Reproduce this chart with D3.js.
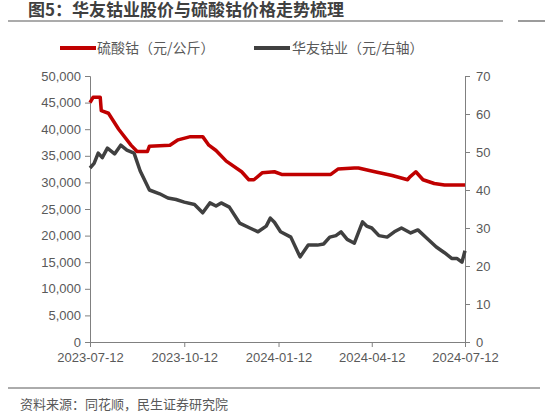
<!DOCTYPE html>
<html><head><meta charset="utf-8">
<script src="https://cdn.jsdelivr.net/npm/d3@7"></script>
<style>body{margin:0;background:#fff;font-family:"Noto Sans CJK SC","Noto Sans",sans-serif}</style>
</head><body><svg id="c" width="545" height="414"></svg>
<script>
// 硫酸钴 (元/公斤), date offsets in days from 2023-07-12
const cobaltDays = [0,3,10,11,18,28,40,46,56,58,78,86,98,110,116,123,133,148,155,160,168,180,187,196,235,242,258,262,278,295,310,312,318,325,336,346,366];
const cobaltVals = [45000,46000,46000,43500,43000,40000,37000,35800,35800,36800,37000,38000,38600,38600,37000,36000,34000,32000,30500,30500,31800,32000,31500,31500,31500,32500,32700,32700,32000,31300,30500,31000,32000,30500,29800,29500,29500];
// 华友钴业 (元, 右轴)
const stockDays = [0,4,8,12,17,24,30,36,43,49,58,68,76,84,92,102,110,117,123,128,136,146,156,164,172,176,180,186,196,205,213,222,228,234,240,245,251,258,266,270,275,282,290,297,304,313,320,328,338,346,353,358,363,366];
const stockVals = [45.8,47,49.7,48.5,51,49.5,51.8,50.5,49.7,45,40,39,37.9,37.5,36.8,36.2,34,36.6,35.8,36.6,35.5,31.3,30,29,30.5,32.6,31.5,29,27.6,22.4,25.5,25.5,25.8,27.6,28,29,27,26,31.6,30.5,30,28,27.6,29,30,28.7,29.5,27.5,25,23.5,22,22,21,24];
const xTicks = ["2023-07-12","2023-10-12","2024-01-12","2024-04-12","2024-07-12"];
const leftTicks = d3.range(0,50001,5000);
const rightTicks = d3.range(0,71,10);

const svg = d3.select("#c");
const parse = d3.timeParse("%Y-%m-%d");
const t0 = parse("2023-07-12");
const dayToDate = d => d3.timeDay.offset(t0, d);
const x = d3.scaleTime().domain([t0, parse("2024-07-12")]).range([90,465]);
const yL = d3.scaleLinear().domain([0,50000]).range([342,76]);
const yR = d3.scaleLinear().domain([0,70]).range([342,76]);
const grey = "#595959";

svg.append("text").attr("x",28).attr("y",16).attr("font-size",17).attr("font-weight","bold").attr("fill","#404040").text("图5：华友钴业股价与硫酸钴价格走势梳理");
svg.append("line").attr("x1",8).attr("x2",503).attr("y1",21).attr("y2",21).attr("stroke","#595959").attr("stroke-width",1.2);
svg.append("line").attr("x1",518).attr("x2",545).attr("y1",21).attr("y2",21).attr("stroke","#595959").attr("stroke-width",1.2);

// legend
const lg = svg.append("g").attr("font-size",14).attr("fill",grey);
lg.append("line").attr("x1",60).attr("x2",96).attr("y1",48).attr("y2",48).attr("stroke","#C00000").attr("stroke-width",4);
lg.append("text").attr("x",97).attr("y",53).attr("fill",grey).text("硫酸钴（元/公斤）");
lg.append("line").attr("x1",254).attr("x2",290).attr("y1",48).attr("y2",48).attr("stroke","#404040").attr("stroke-width",4);
lg.append("text").attr("x",292).attr("y",53).attr("fill",grey).text("华友钴业（元/右轴）");

const ax = (g) => { g.selectAll("path,line").attr("stroke","#808080"); g.selectAll("text").attr("fill",grey).attr("font-size",13).attr("font-family","Liberation Sans, Arial, sans-serif"); };
svg.append("g").attr("transform","translate(90,0)").call(d3.axisLeft(yL).tickValues(leftTicks).tickFormat(d3.format(",")).tickSize(5).tickPadding(4)).call(ax);
svg.append("g").attr("transform","translate(465,0)").call(d3.axisRight(yR).tickValues(rightTicks).tickSize(5).tickPadding(6)).call(ax);
svg.append("g").attr("transform","translate(0,342)").call(d3.axisBottom(x).tickValues(xTicks.map(parse)).tickFormat(d3.timeFormat("%Y-%m-%d")).tickSize(5).tickPadding(6)).call(ax);

const line = (ys) => d3.line().x(d => x(dayToDate(d[0]))).y(d => ys(d[1]));
svg.append("path").datum(stockDays.map((d,i)=>[d,stockVals[i]])).attr("d",line(yR)).attr("fill","none").attr("stroke","#404040").attr("stroke-width",3.5).attr("stroke-linejoin","round");
svg.append("path").datum(cobaltDays.map((d,i)=>[d,cobaltVals[i]])).attr("d",line(yL)).attr("fill","none").attr("stroke","#C00000").attr("stroke-width",3.5).attr("stroke-linejoin","round");

svg.append("line").attr("x1",8).attr("x2",540).attr("y1",388).attr("y2",388).attr("stroke","#595959").attr("stroke-width",1);
svg.append("text").attr("x",20).attr("y",409).attr("font-size",13).attr("fill",grey).text("资料来源：同花顺，民生证券研究院");
</script></body></html>
